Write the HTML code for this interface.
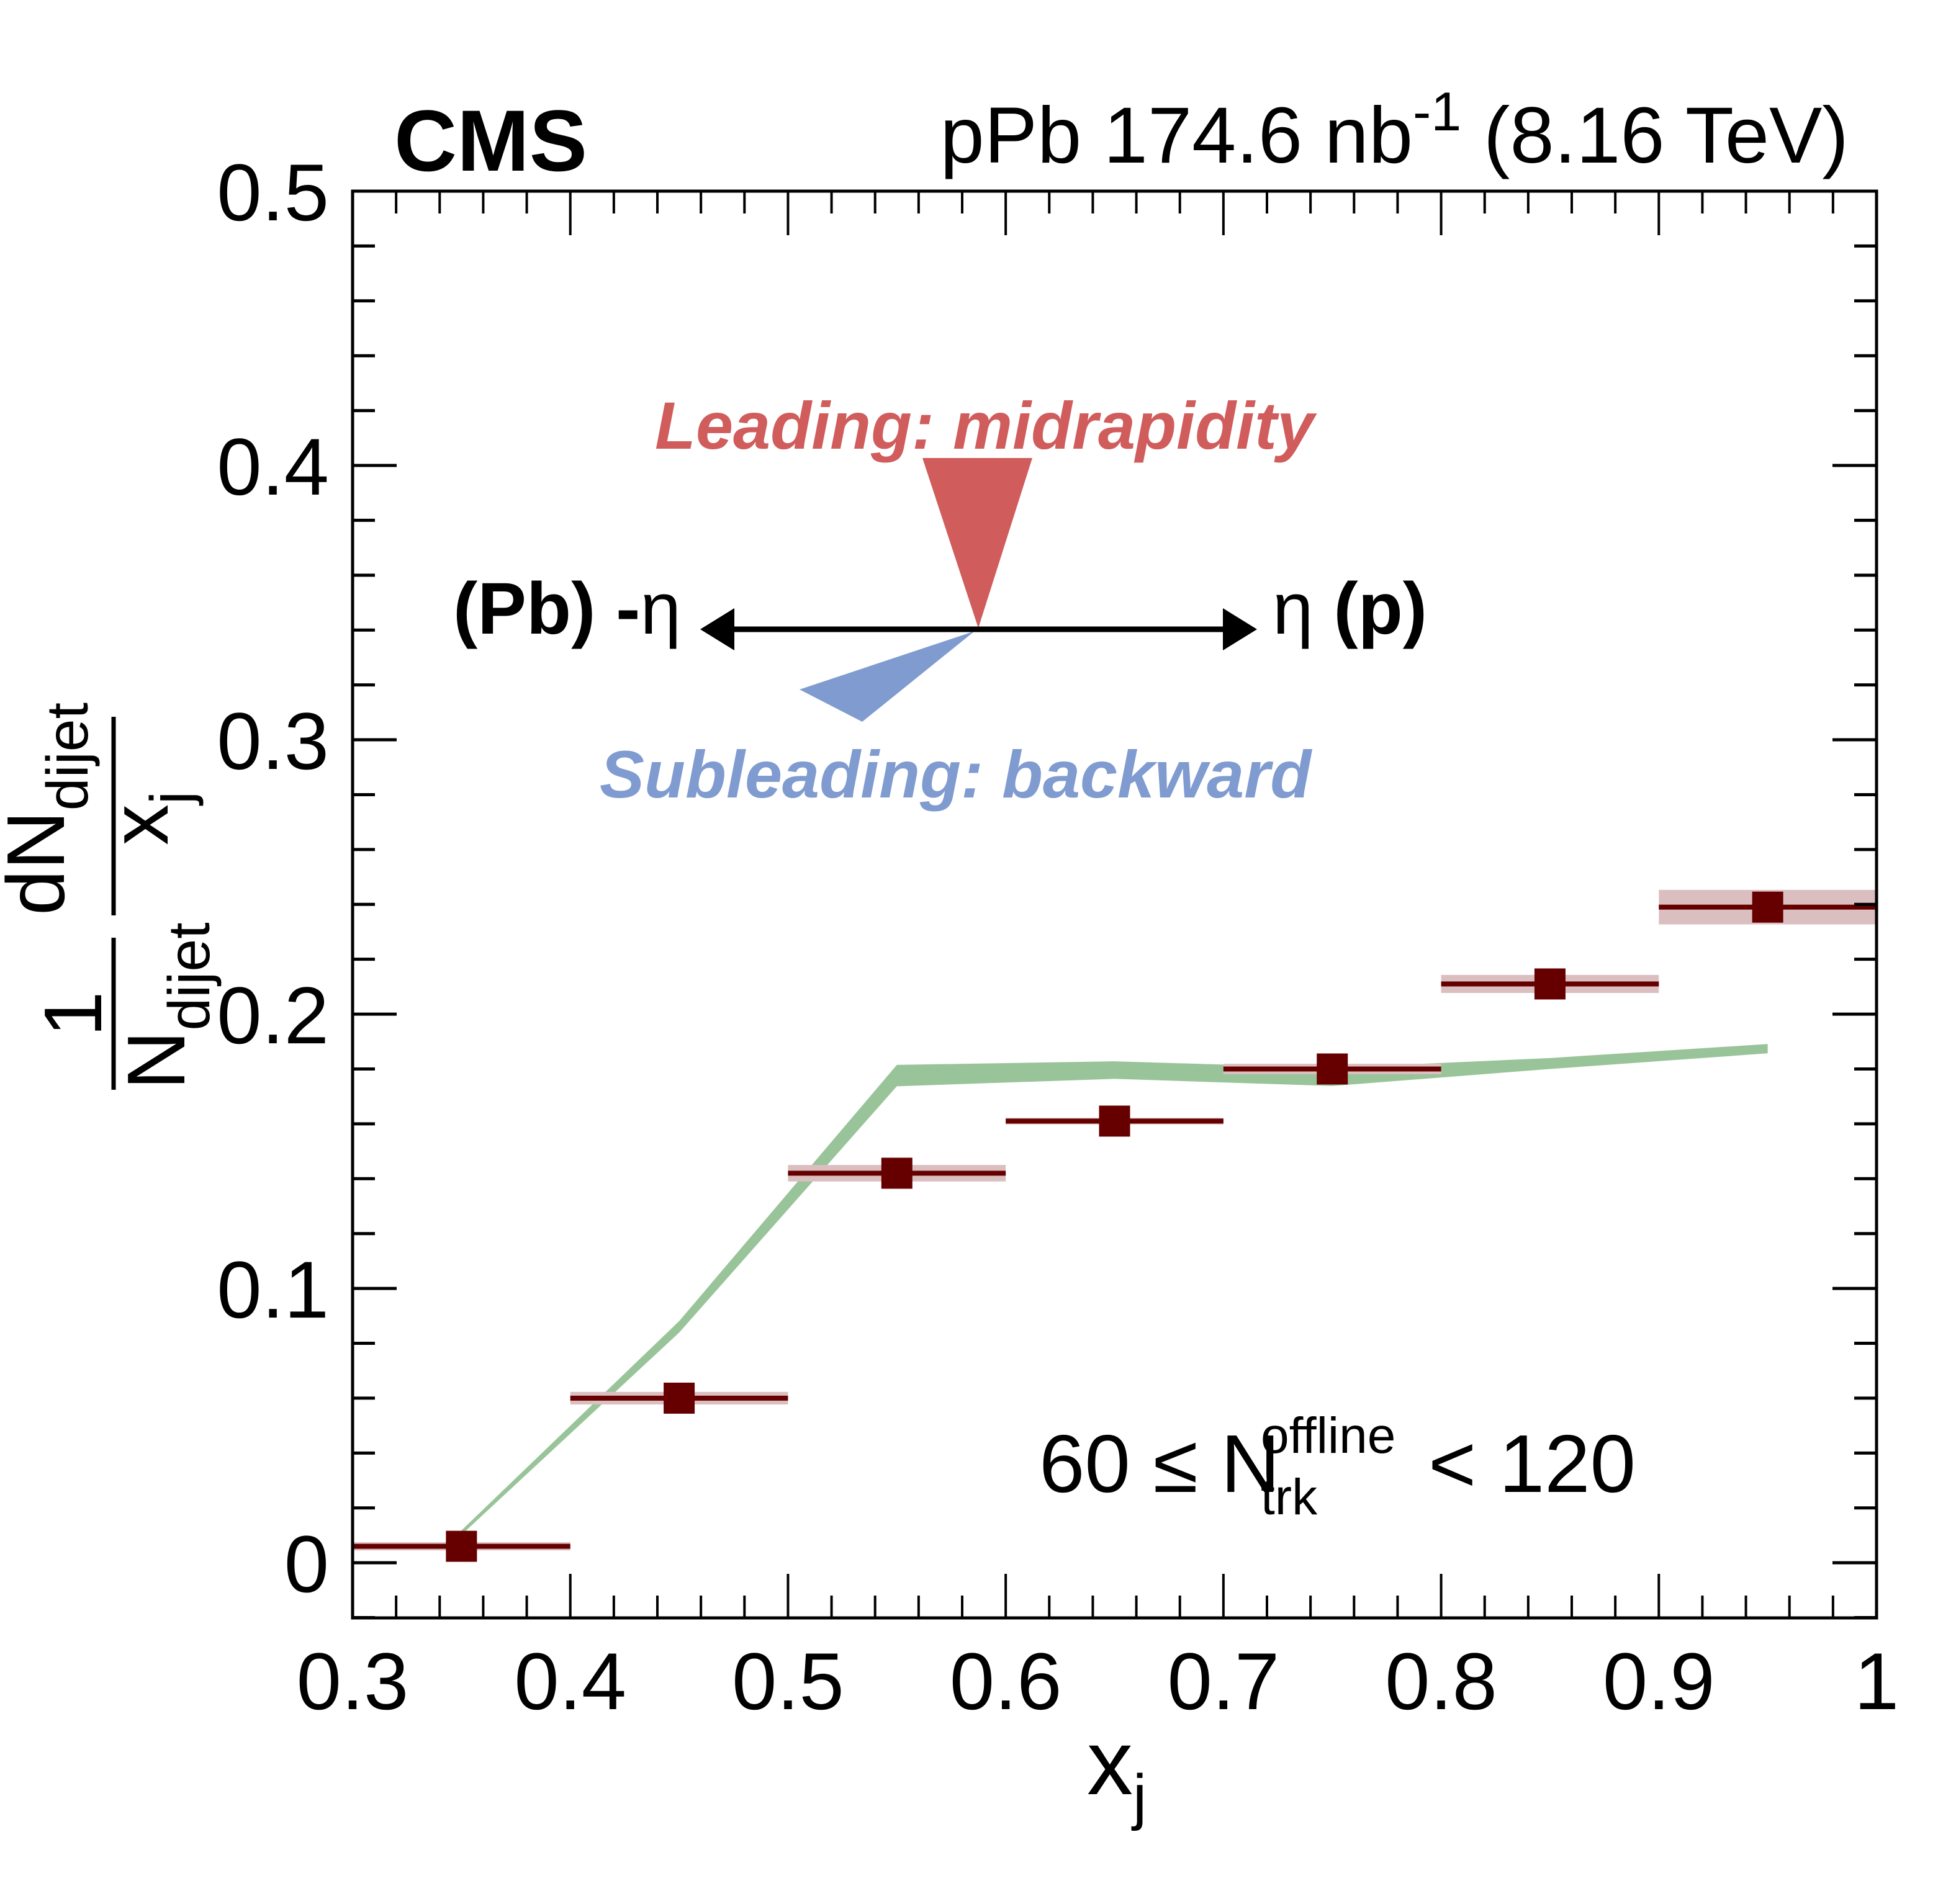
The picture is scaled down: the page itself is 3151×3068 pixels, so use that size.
<!DOCTYPE html>
<html><head><meta charset="utf-8"><style>
html,body{margin:0;padding:0;background:#fff;}
svg{display:block;font-family:"Liberation Sans",Arial,sans-serif;}
</style></head><body>
<svg id="chart" width="3151" height="3068" viewBox="0 0 3151 3068" xmlns="http://www.w3.org/2000/svg">
<rect width="3151" height="3068" fill="#fff"/>
<g id="bands"></g>
<g id="data"></g>
<g id="axes"></g>
<text x="635" y="275" font-size="140" font-weight="bold">CMS</text>
<text x="2978" y="262" font-size="128" text-anchor="end">pPb 174.6 nb<tspan dy="-52" font-size="88">-1</tspan><tspan dy="52"> (8.16 TeV)</tspan></text>
<text x="1751" y="2891" font-size="148">x<tspan dy="38" font-size="100">j</tspan></text>
<g>
 <line x1="183" y1="1511" x2="183" y2="1756" stroke="#000" stroke-width="7"/>
 <line x1="183" y1="1155" x2="183" y2="1475" stroke="#000" stroke-width="7"/>
 <text transform="translate(163,1634) rotate(-90)" font-size="132" text-anchor="middle">1</text>
 <text transform="translate(297,1756) rotate(-90)" font-size="132">N<tspan dy="40" font-size="95">dijet</tspan></text>
 <text transform="translate(103,1475) rotate(-90)" font-size="132">dN<tspan dy="38" font-size="95">dijet</tspan></text>
 <text transform="translate(270,1362) rotate(-90)" font-size="132">x<tspan dy="38" font-size="95">j</tspan></text>
</g>
<g>
 <text x="1674" y="2404" font-size="132">60 ≤ N</text>
 <text x="2031" y="2341" font-size="82">offline</text>
 <text x="2031" y="2440" font-size="82">trk</text>
 <text x="2301" y="2404" font-size="132">&lt; 120</text>
</g>
<g>
 <text x="1055" y="723" font-size="108" font-weight="bold" font-style="italic" fill="#d05c5c">Leading: midrapidity</text>
 <polygon points="1486,738 1663,738 1576,1012" fill="#d05c5c"/>
 <polygon points="1570,1017 1288,1111 1389,1163" fill="#7f9bd0"/>
 <text x="966" y="1285" font-size="108" font-weight="bold" font-style="italic" fill="#7f9bd0">Subleading: backward</text>
 <line x1="1170" y1="1014" x2="1990" y2="1014" stroke="#000" stroke-width="9"/>
 <polygon points="1128,1014 1183,980 1183,1048" fill="#000"/>
 <polygon points="2025,1014 1970,980 1970,1048" fill="#000"/>
 <text x="730" y="1021" font-size="118" font-weight="bold">(Pb) -<tspan font-weight="normal">η</tspan></text>
 <text x="2050" y="1021" font-size="118" font-weight="bold"><tspan font-weight="normal">η</tspan> (p)</text>
</g>
</svg>
<script>
const xCenters=[0.35,0.45,0.55,0.65,0.75,0.85,0.95];
const yValues=[0.006,0.060,0.142,0.161,0.180,0.211,0.239];
const ySys=[0.0015,0.0023,0.003,0.0012,0.0019,0.0033,0.0063];
const binHalf=0.05;
const theoryValues=[0.011,0.086,0.1776,0.1796,0.1771,0.182,0.1874];
const theoryErr=[0.0008,0.0021,0.0039,0.0032,0.0033,0.002,0.0017];
const xTicks=[0.3,0.4,0.5,0.6,0.7,0.8,0.9,1];
const xTickLabels=["0.3","0.4","0.5","0.6","0.7","0.8","0.9","1"];
const yTicks=[0,0.1,0.2,0.3,0.4,0.5];
const yTickLabels=["0","0.1","0.2","0.3","0.4","0.5"];

const L=568,R=3023,T=308,B=2607,X0=0.3,X1=1.0,Y0=-0.0201,Y1=0.5;
const sx=v=>L+(v-X0)/(X1-X0)*(R-L);
const sy=v=>B-(v-Y0)/(Y1-Y0)*(B-T);
const NS="http://www.w3.org/2000/svg";
function mk(tag,attrs,parent){const e=document.createElementNS(NS,tag);for(const k in attrs)e.setAttribute(k,attrs[k]);parent.appendChild(e);return e;}
const bands=document.getElementById('bands'),data=document.getElementById('data'),axes=document.getElementById('axes');

let up=xCenters.map((x,i)=>sx(x)+','+sy(theoryValues[i]+theoryErr[i]));
let lo=xCenters.map((x,i)=>sx(x)+','+sy(theoryValues[i]-theoryErr[i])).reverse();
const band=mk('polygon',{points:up.concat(lo).join(' '),fill:'#99c499'},bands);



xCenters.forEach((x,i)=>{
 const g=mk('g',{},data);
 
 
 const xl=sx(x-binHalf),xr=Math.min(sx(x+binHalf),R);
 mk('rect',{x:xl,y:sy(yValues[i]+ySys[i]),width:xr-xl,height:sy(yValues[i]-ySys[i])-sy(yValues[i]+ySys[i]),fill:'#dbbfc0'},g);
 mk('rect',{x:xl,y:sy(yValues[i])-4,width:xr-xl,height:8,fill:'#660000'},g);
 mk('rect',{x:sx(x)-25,y:sy(yValues[i])-25,width:50,height:50,fill:'#660000'},g);
});

const fr=mk('rect',{x:L,y:T,width:R-L,height:B-T,fill:'none',stroke:'#000','stroke-width':5},axes);


for(let k=0;k<=35;k++){const v=0.3+k*0.02;const X=sx(v);const major=k%5===0;const len=major?71:36;
 mk('line',{x1:X,y1:B,x2:X,y2:B-len,stroke:'#000','stroke-width':4},axes);
 mk('line',{x1:X,y1:T,x2:X,y2:T+len,stroke:'#000','stroke-width':4},axes);}
for(let k=-1;k<=25;k++){const v=k*0.02;const Y=sy(v);const major=k%5===0;const len=major?71:36;
 mk('line',{x1:L,y1:Y,x2:L+len,y2:Y,stroke:'#000','stroke-width':5},axes);
 mk('line',{x1:R,y1:Y,x2:R-len,y2:Y,stroke:'#000','stroke-width':5},axes);}
xTicks.forEach((v,i)=>{const t=mk('text',{x:sx(v),y:2754,'font-size':130,'text-anchor':'middle'},axes);t.textContent=xTickLabels[i];
 
 });
yTicks.forEach((v,i)=>{const t=mk('text',{x:530,y:sy(v)+47,'font-size':130,'text-anchor':'end'},axes);t.textContent=yTickLabels[i];
 
 });
</script>
</body></html>
